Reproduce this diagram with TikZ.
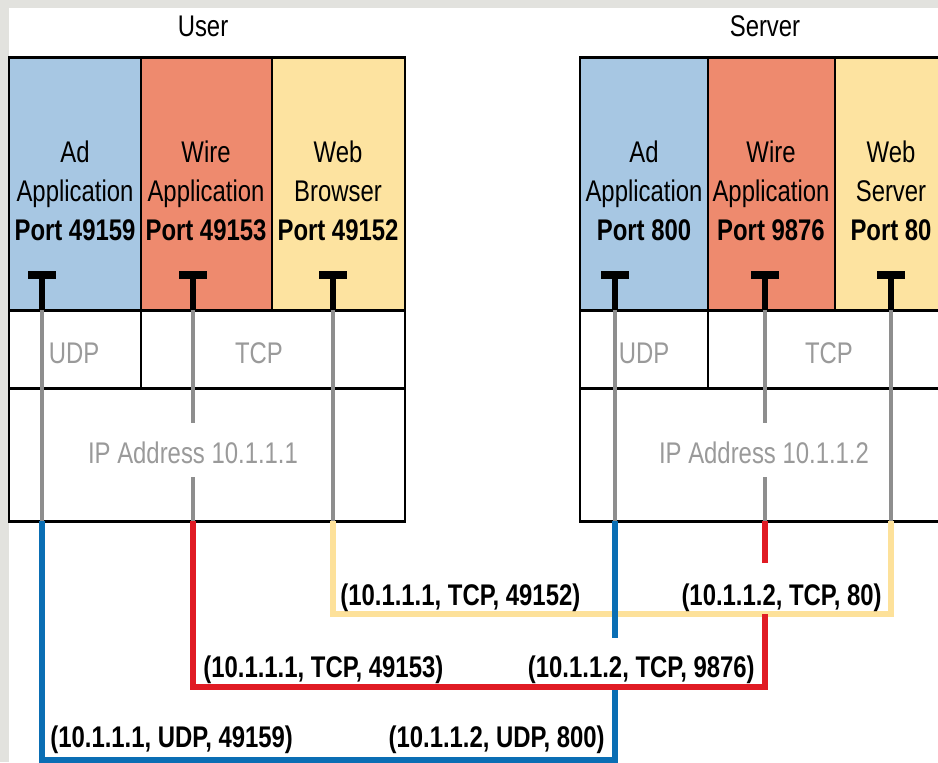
\documentclass[tikz,border=0pt]{standalone}
\usepackage{fontspec}
\setmainfont{Liberation Sans}[FakeStretch=0.8]

\definecolor{adcol}{HTML}{A7C7E3}
\definecolor{wirecol}{HTML}{EE8A6E}
\definecolor{webcol}{HTML}{FDE3A0}
\definecolor{sockgray}{HTML}{8E8E8E}
\definecolor{txtgray}{HTML}{9A9A9A}
\definecolor{udpblue}{HTML}{0A6EB4}
\definecolor{tcpred}{HTML}{E01B24}
\definecolor{webyel}{HTML}{FDE19A}
\definecolor{pagegray}{HTML}{E2E2DE}

\begin{document}
\begin{tikzpicture}[x=0.02cm,y=-0.02cm,
  stack/.style={draw=black,line width=1.7pt},
  sockline/.style={draw=sockgray,line width=2.8pt},
  udpwire/.style={draw=udpblue,line width=3pt},
  tcpwire/.style={draw=tcpred,line width=3pt},
  webwire/.style={draw=webyel,line width=3pt},
  applbl/.style={align=center,inner sep=0pt,font=\fontsize{17}{22.2}\selectfont},
  title/.style={inner sep=0pt,anchor=base,font=\fontsize{17}{20}\selectfont},
  layer/.style={inner sep=0pt,anchor=base,text=txtgray,font=\fontsize{17}{20}\selectfont},
  pairlbl/.style={inner sep=0pt,font=\fontsize{17}{20}\selectfont\bfseries}]
 \clip (0,0) rectangle (938,762);
 \fill[pagegray] (0,0) rectangle (938,762);
 \fill[white] (9,8) rectangle (938,762);

 % user host
 \node[title] (user) at (203,36) {User};
 \draw[stack,fill=adcol] (9,57) rectangle (141,310);
 \draw[stack,fill=wirecol] (141,57) rectangle (272,310);
 \draw[stack,fill=webcol] (272,57) rectangle (405,310);
 \draw[stack] (9,310) rectangle (141,388);
 \draw[stack] (141,310) rectangle (405,388);
 \draw[stack] (9,388) rectangle (405,521);
 \node[applbl] (uadapp) at (75,191) {Ad\\Application\\\textbf{Port 49159}};
 \node[applbl] (uwireapp) at (206,191) {Wire\\Application\\\textbf{Port 49153}};
 \node[applbl] (uwebapp) at (338,191) {Web\\Browser\\\textbf{Port 49152}};
 \node[layer] (uudp) at (74,363) {UDP};
 \node[layer] (utcp) at (259,363) {TCP};
 \node[layer] (uip) at (193,463) {IP Address 10.1.1.1};

 % server host
 \node[title] (server) at (765,36) {Server};
 \draw[stack,fill=adcol] (580,57) rectangle (708,310);
 \draw[stack,fill=wirecol] (708,57) rectangle (835,310);
 \draw[stack,fill=webcol] (835,57) rectangle (950,310);
 \draw[stack] (580,310) rectangle (708,388);
 \draw[stack] (708,310) rectangle (950,388);
 \draw[stack] (580,388) rectangle (950,521);
 \node[applbl] (sadapp) at (644,191) {Ad\\Application\\\textbf{Port 800}};
 \node[applbl] (swireapp) at (771,191) {Wire\\Application\\\textbf{Port 9876}};
 \node[applbl] (swebapp) at (891,191) {Web\\Server\\\textbf{Port 80}};
 \node[layer] (sudp) at (644,363) {UDP};
 \node[layer] (stcp) at (829,363) {TCP};
 \node[layer] (sip) at (764,463) {IP Address 10.1.1.2};

 % sockets
 \foreach \n/\x in {ua/42,uw/193,ub/333,sa/615,sw/765,sb/891}{
  \coordinate (\n) at (\x,310);
  \coordinate (\n-ip) at (\x,521);
  \fill (\n) ++(-14,-39) rectangle ++(28,8);
  \draw[line width=3.4pt] (\n) -- ++(0,-31);
 }
 \foreach \n in {ua,ub,sa,sb}
  \draw[sockline] (\n) -- (\n-ip);
 \foreach \n in {uw,sw}{
  \draw[sockline] (\n) -- ++(0,113);
  \draw[sockline] (\n-ip) -- ++(0,-44);
 }

 % lanes
 \coordinate (laneB) at (0,614);
 \coordinate (laneW) at (0,687);
 \coordinate (laneU) at (0,760);
 \coordinate (cutU) at (0,638);
 \coordinate (gapU) at (0,690);
 \coordinate (cutW) at (0,563);

 \draw[webwire] (ub-ip) |- (sb |- laneB) -- (sb-ip);
 \draw[udpwire] (ua-ip) |- (sa |- laneU) -- (sa |- gapU);
 \draw[udpwire] (sa-ip) -- (sa |- cutU);
 \draw[tcpwire] (uw-ip) |- (sw |- laneW) -- (sw |- laneB);
 \draw[tcpwire] (sw-ip) -- (sw |- cutW);

 \node[pairlbl,anchor=base west] (ubpair) at (340,605) {(10.1.1.1, TCP, 49152)};
 \node[pairlbl,anchor=base east] (sbpair) at (882,605) {(10.1.1.2, TCP, 80)};
 \node[pairlbl,anchor=base west] (uwpair) at (203,677) {(10.1.1.1, TCP, 49153)};
 \node[pairlbl,anchor=base east] (swpair) at (755,677) {(10.1.1.2, TCP, 9876)};
 \node[pairlbl,anchor=base west] (uapair) at (50,747) {(10.1.1.1, UDP, 49159)};
 \node[pairlbl,anchor=base east] (sapair) at (605,747) {(10.1.1.2, UDP, 800)};
\end{tikzpicture}
\end{document}
